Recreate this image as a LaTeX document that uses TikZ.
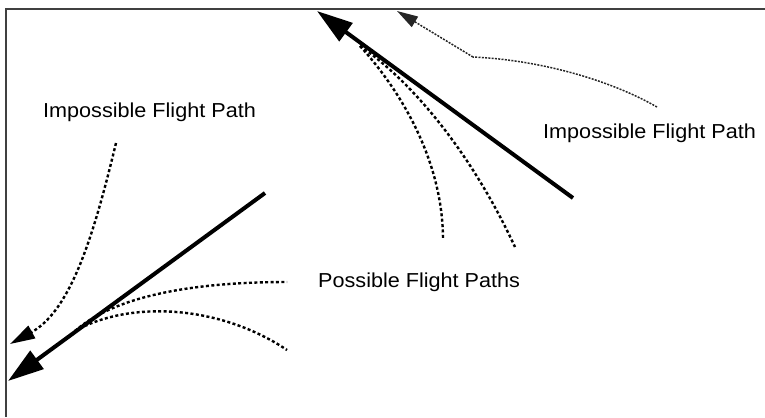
\documentclass[tikz,border=0pt]{standalone}
\usepackage{fontspec}
\setmainfont{Liberation Sans}[FakeStretch=1.07]
\usetikzlibrary{arrows.meta}
\tikzset{
  frameline/.style={draw=black!75, line width=1.8bp},
  mainpath/.style={draw=black, line width=4bp, -{Triangle[length=36bp,width=22bp]}},
  possible/.style={draw=black, line width=2.4bp, dash pattern=on 3bp off 2.4bp},
  impossible/.style={draw=black, line width=2.4bp, dash pattern=on 3bp off 2.4bp, -{Triangle[length=25bp,width=14bp]}},
  impossiblethin/.style={draw=black!85, line width=1.5bp, dash pattern=on 2bp off 1.3bp},
  label/.style={font=\fontsize{20.2bp}{24bp}\selectfont, anchor=base west, inner sep=0pt}
}
\begin{document}
\begin{tikzpicture}[x=1bp,y=-1bp]
\useasboundingbox (0,0) rectangle (765,417);
% frame
\coordinate (fr) at (765,9);
\coordinate (fc) at (6,9);
\coordinate (fb) at (6,417);
\draw[frameline] (fr) -- (fc) -- (fb);

% bottom-left flight
\coordinate (aS) at (265,193);
\coordinate (aT) at (8,381);
\draw[mainpath] (aS) -- (aT);
\coordinate (p0) at (75,331);
\coordinate (p1) at (287,282);
\coordinate (p2) at (287,350);
\draw[possible] (p0) .. controls (110,300) and (180,282) .. (p1);
\draw[possible] (p0) .. controls (130,300) and (220,305) .. (p2);
\coordinate (iS) at (116,143);
\coordinate (iT) at (10,344);
\draw[impossible] (iS) .. controls (95,230) and (72,310) .. (iT);

% top flight
\coordinate (bS) at (573,198);
\coordinate (bT) at (317,11);
\draw[mainpath] (bS) -- (bT);
\coordinate (q0) at (360,46);
\coordinate (q1) at (443,240);
\coordinate (q2) at (515,247);
\draw[possible] (q0) .. controls (400,90) and (443,160) .. (q1);
\draw[possible] (q0) .. controls (410,80) and (470,150) .. (q2);
\coordinate (jS) at (657,107);
\coordinate (jK) at (473,57);
\coordinate (jT) at (397,11);
\draw[impossiblethin] (jS) .. controls (610,80) and (540,60) .. (jK);
\draw[impossiblethin, -{Triangle[length=21bp,width=12bp]}] (jK) -- (jT);

% labels
\node[label] (l1) at (43,117) {Impossible Flight Path};
\node[label] (l2) at (543,138) {Impossible Flight Path};
\node[label] (l3) at (318,287) {Possible Flight Paths};
\end{tikzpicture}
\end{document}
